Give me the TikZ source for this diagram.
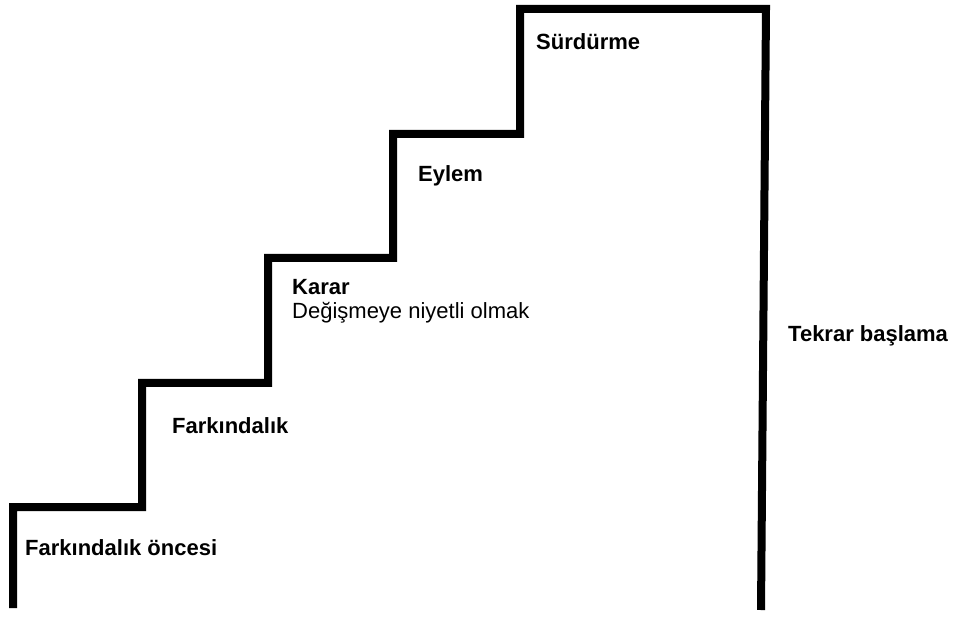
\documentclass[tikz,border=0pt]{standalone}
\usepackage{fontspec}
\setmainfont{Liberation Sans}

\begin{document}
\begin{tikzpicture}[x=1pt,y=-1pt,
  stair/.style={line width=8pt,line join=miter},
  stage/.style={anchor=base west,inner sep=0pt,font=\bfseries\fontsize{22}{26}\selectfont},
  note/.style={anchor=base west,inner sep=0pt,font=\fontsize{22}{26}\selectfont}]
  \useasboundingbox (0,0) rectangle (961,617);

  % the staircase
  \draw[stair] (13,608) -- (13,507) -- (142,507) -- (142,383) -- (268,383)
    -- (268,258) -- (393,258) -- (393,134) -- (520,134) -- (520,9)
    -- (766,9) -- (761,610);

  % stages
  \node[stage] (oncesi) at (25,555) {Farkındalık öncesi};
  \node[stage] (farkindalik) at (172,433) {Farkındalık};
  \node[stage] (karar) at (292,295) {Karar};
  \node[note] (niyet) at (292,319) {Değişmeye niyetli olmak};
  \node[stage] (eylem) at (418,182) {Eylem};
  \node[stage] (surdurme) at (536,50) {Sürdürme};
  \node[stage] (tekrar) at (788,342) {Tekrar başlama};
\end{tikzpicture}
\end{document}
